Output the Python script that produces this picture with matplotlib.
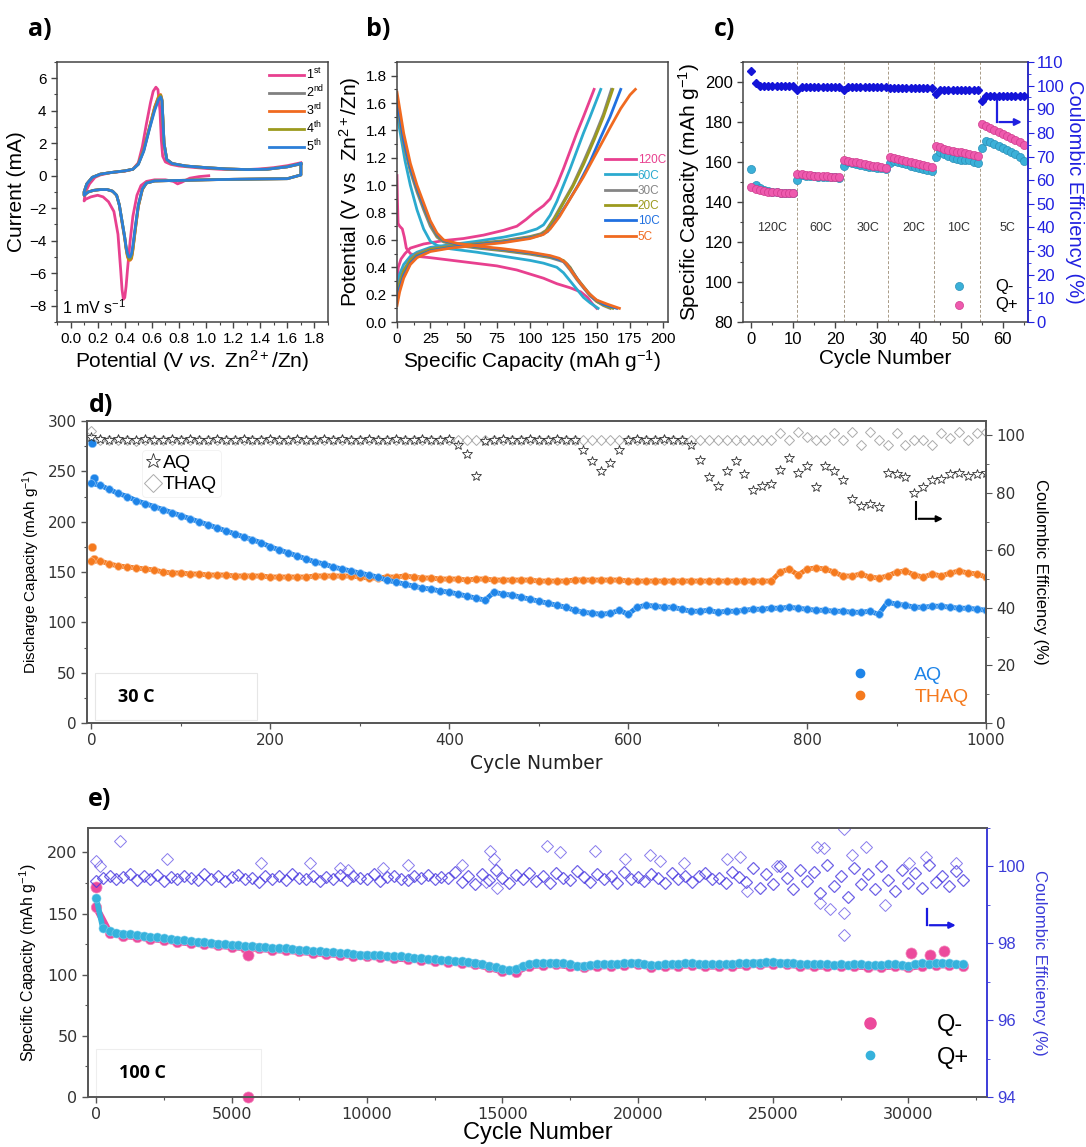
import numpy as np
import matplotlib.pyplot as plt
from matplotlib.ticker import MultipleLocator
from matplotlib.lines import Line2D
from matplotlib.patches import Rectangle

plt.rcParams['font.family'] = ['Liberation Sans', 'DejaVu Sans']
plt.rcParams['mathtext.fontset'] = 'custom'
plt.rcParams['mathtext.rm'] = 'Liberation Sans'
plt.rcParams['mathtext.it'] = 'Liberation Sans:italic'
plt.rcParams['mathtext.bf'] = 'Liberation Sans:bold'

# ---------------- a) CV curves ----------------
cv1_x = [1.02, 0.95, 0.88, 0.82, 0.79, 0.76, 0.70, 0.62, 0.56, 0.52, 0.49, 0.46, 0.44, 0.42, 0.41, 0.40,
         0.39, 0.38, 0.37, 0.35, 0.32, 0.28, 0.24, 0.20, 0.15, 0.11, 0.10, 0.11, 0.14, 0.18, 0.22, 0.30,
         0.40, 0.46, 0.50, 0.53, 0.56, 0.59, 0.61, 0.63, 0.645, 0.66, 0.67, 0.68, 0.70, 0.74, 0.80, 0.90,
         1.00, 1.10, 1.20, 1.30, 1.40, 1.50, 1.60, 1.70]
cv1_y = [0.0, -0.05, -0.15, -0.40, -0.50, -0.35, -0.25, -0.25, -0.35, -0.60, -1.2, -2.5, -4.0, -5.8, -6.8, -7.5,
         -7.6, -7.0, -5.8, -3.6, -2.2, -1.6, -1.3, -1.2, -1.3, -1.45, -1.55, -1.0, -0.5, -0.1, 0.05, 0.2,
         0.28, 0.4, 0.8, 1.8, 3.2, 4.5, 5.2, 5.45, 5.3, 4.0, 2.2, 1.2, 0.85, 0.7, 0.6, 0.52,
         0.45, 0.4, 0.38, 0.38, 0.42, 0.5, 0.62, 0.8]
cv_x = [1.70, 1.70, 1.60, 1.40, 1.20, 1.00, 0.85, 0.72, 0.62, 0.56, 0.53, 0.50, 0.48, 0.46, 0.45, 0.44, 0.43,
        0.42, 0.41, 0.40, 0.38, 0.36, 0.34, 0.31, 0.27, 0.22, 0.17, 0.13, 0.10, 0.10, 0.12, 0.16, 0.22, 0.30,
        0.40, 0.46, 0.50, 0.54, 0.58, 0.62, 0.65, 0.665, 0.675, 0.69, 0.71, 0.75, 0.85, 1.00, 1.15, 1.30,
        1.45, 1.60, 1.70]
cv2_y = [0.72, 0.05, -0.18, -0.2, -0.22, -0.25, -0.28, -0.3, -0.32, -0.45, -0.85, -1.9, -3.2, -4.5, -5.0, -5.15,
         -5.1, -4.9, -4.4, -3.8, -2.8, -1.8, -1.2, -0.95, -0.85, -0.85, -0.9, -1.0, -1.2, -1.0, -0.5, -0.1,
         0.1, 0.2, 0.3, 0.4, 0.72, 1.6, 2.9, 4.2, 4.85, 4.95, 4.6, 2.0, 1.0, 0.75, 0.6, 0.5, 0.42, 0.38,
         0.4, 0.55, 0.72]
cv3_y = [0.74, 0.05, -0.18, -0.2, -0.22, -0.25, -0.28, -0.3, -0.32, -0.45, -0.85, -1.9, -3.2, -4.6, -5.1, -5.2,
         -5.2, -5.0, -4.5, -3.9, -2.9, -1.8, -1.2, -0.95, -0.85, -0.85, -0.9, -1.0, -1.2, -1.0, -0.5, -0.1,
         0.1, 0.2, 0.3, 0.4, 0.72, 1.6, 2.9, 4.2, 4.9, 5.0, 4.7, 2.0, 1.0, 0.75, 0.6, 0.5, 0.42, 0.38,
         0.4, 0.55, 0.74]
cv4_y = [0.75, 0.05, -0.18, -0.2, -0.22, -0.25, -0.28, -0.3, -0.32, -0.45, -0.82, -1.85, -3.1, -4.5, -5.0, -5.15,
         -5.1, -4.9, -4.5, -3.8, -2.8, -1.8, -1.2, -0.95, -0.85, -0.85, -0.9, -1.0, -1.2, -1.0, -0.5, -0.1,
         0.1, 0.2, 0.3, 0.4, 0.71, 1.55, 2.85, 4.1, 4.8, 4.95, 4.65, 2.0, 1.0, 0.75, 0.6, 0.5, 0.42, 0.38,
         0.4, 0.55, 0.75]
cv5_y = [0.75, 0.05, -0.18, -0.2, -0.22, -0.25, -0.28, -0.3, -0.32, -0.45, -0.8, -1.8, -3.0, -4.3, -4.8, -5.0,
         -5.0, -4.8, -4.4, -3.8, -2.8, -1.8, -1.2, -0.95, -0.85, -0.85, -0.9, -1.0, -1.2, -1.0, -0.5, -0.1,
         0.1, 0.2, 0.3, 0.4, 0.7, 1.5, 2.8, 4.0, 4.7, 4.85, 4.6, 2.0, 1.0, 0.75, 0.6, 0.5, 0.42, 0.38,
         0.4, 0.55, 0.75]
cv_labels = [r'1$^{\mathrm{st}}$', r'2$^{\mathrm{nd}}$', r'3$^{\mathrm{rd}}$', r'4$^{\mathrm{th}}$', r'5$^{\mathrm{th}}$']
cv_colors = ['#e8408f', '#808080', '#f06a20', '#9c9a1e', '#2c7fd8']

# ---------------- b) charge / discharge ----------------
rates = ['120C', '60C', '30C', '20C', '10C', '5C']
rate_colors = ['#e8408f', '#2baacf', '#858585', '#9c9a1e', '#2070e0', '#f06a20']
dis_x = [
    [0, 0.3, 0.8, 2, 4, 5.5, 7, 10, 15, 25, 50, 75, 90, 100, 110, 120, 130, 138, 143, 147, 150],
    [0, 3, 6, 10, 15, 20, 25, 30, 40, 60, 80, 100, 110, 120, 125, 130, 135, 140, 145, 151],
    [0, 5, 10, 15, 20, 25, 30, 35, 45, 60, 80, 100, 115, 125, 130, 135, 140, 145, 150, 155, 160],
    [0, 5, 10, 15, 20, 25, 30, 35, 45, 60, 80, 100, 115, 125, 130, 135, 140, 145, 150, 156, 162],
    [0, 5, 10, 15, 20, 25, 30, 35, 45, 60, 80, 100, 115, 124, 128, 133, 138, 143, 148, 155, 165],
    [0, 5, 10, 15, 20, 25, 30, 35, 45, 60, 80, 100, 115, 122, 127, 132, 138, 144, 150, 158, 167],
]
dis_y = [
    [1.07, 0.9, 0.72, 0.70, 0.68, 0.62, 0.54, 0.50, 0.48, 0.47, 0.44, 0.41, 0.38, 0.35, 0.32, 0.28, 0.25, 0.22, 0.18, 0.13, 0.10],
    [1.52, 1.35, 1.18, 1.0, 0.82, 0.68, 0.59, 0.56, 0.535, 0.51, 0.48, 0.45, 0.43, 0.40, 0.36, 0.30, 0.24, 0.18, 0.14, 0.10],
    [1.58, 1.3, 1.1, 0.95, 0.82, 0.7, 0.62, 0.585, 0.56, 0.54, 0.52, 0.495, 0.47, 0.44, 0.38, 0.31, 0.25, 0.19, 0.15, 0.12, 0.10],
    [1.6, 1.32, 1.12, 0.97, 0.84, 0.72, 0.63, 0.59, 0.565, 0.545, 0.525, 0.5, 0.475, 0.45, 0.4, 0.32, 0.26, 0.2, 0.15, 0.12, 0.10],
    [1.62, 1.33, 1.13, 0.98, 0.85, 0.73, 0.64, 0.595, 0.57, 0.55, 0.53, 0.505, 0.48, 0.45, 0.42, 0.35, 0.28, 0.22, 0.17, 0.13, 0.10],
    [1.68, 1.38, 1.16, 1.0, 0.87, 0.74, 0.65, 0.60, 0.575, 0.555, 0.535, 0.51, 0.485, 0.465, 0.43, 0.36, 0.28, 0.21, 0.16, 0.13, 0.10],
]
chg_x = [
    [0, 1, 3, 6, 10, 20, 35, 50, 65, 80, 90, 97, 103, 110, 115, 120, 125, 130, 135, 140, 144, 148],
    [0, 2, 5, 10, 15, 25, 40, 60, 80, 95, 105, 110, 115, 120, 125, 130, 135, 140, 145, 149, 153],
    [0, 2, 5, 10, 15, 25, 40, 60, 80, 100, 108, 112, 118, 125, 132, 140, 148, 155, 161],
    [0, 2, 5, 10, 15, 25, 40, 60, 80, 100, 108, 112, 118, 125, 132, 140, 148, 155, 162],
    [0, 2, 5, 10, 15, 25, 40, 60, 80, 100, 108, 113, 120, 128, 136, 145, 153, 160, 168],
    [0, 2, 5, 10, 15, 25, 40, 60, 80, 100, 110, 115, 122, 130, 140, 150, 160, 168, 175, 179],
]
chg_y = [
    [0.30, 0.40, 0.46, 0.50, 0.54, 0.57, 0.595, 0.61, 0.635, 0.67, 0.70, 0.75, 0.80, 0.85, 0.90, 1.0, 1.12, 1.25, 1.38, 1.5, 1.6, 1.7],
    [0.25, 0.35, 0.42, 0.48, 0.51, 0.545, 0.565, 0.59, 0.62, 0.65, 0.68, 0.71, 0.78, 0.88, 1.0, 1.12, 1.25, 1.38, 1.5, 1.6, 1.7],
    [0.2, 0.3, 0.38, 0.46, 0.5, 0.535, 0.555, 0.575, 0.595, 0.625, 0.645, 0.67, 0.76, 0.88, 1.0, 1.17, 1.35, 1.52, 1.7],
    [0.18, 0.28, 0.37, 0.45, 0.49, 0.53, 0.55, 0.57, 0.59, 0.62, 0.64, 0.665, 0.75, 0.87, 0.99, 1.15, 1.33, 1.5, 1.7],
    [0.15, 0.25, 0.34, 0.43, 0.48, 0.52, 0.545, 0.565, 0.585, 0.615, 0.635, 0.66, 0.75, 0.87, 1.0, 1.17, 1.35, 1.5, 1.7],
    [0.12, 0.22, 0.32, 0.42, 0.47, 0.515, 0.54, 0.56, 0.58, 0.61, 0.64, 0.68, 0.77, 0.9, 1.06, 1.24, 1.42, 1.56, 1.66, 1.7],
]

# ---------------- c) rate capability ----------------
c_qplus = [147.5, 146.5, 146, 145.5, 145.2, 145, 144.8, 144.6, 144.5, 144.4, 144.3,
           154, 153.8, 153.5, 153.3, 153.2, 153, 152.9, 152.8, 152.7, 152.6, 152.5,
           161, 160.6, 160.2, 159.8, 159.4, 159, 158.6, 158.2, 157.8, 157.4, 157,
           162.5, 162, 161.5, 161, 160.5, 160, 159.5, 159, 158.5, 158, 157.5,
           168, 167.3, 166.6, 166, 165.5, 165, 164.8, 164.5, 164, 163.5, 163,
           179, 178, 177, 176, 175, 174, 173, 172, 171, 170, 168.5]
c_qminus = [156.5, 148.5, 147, 146, 145.5, 145.0, 144.8, 144.6, 144.5, 144.4, 144.3,
            151, 153.5, 153.2, 153, 152.8, 152.7, 152.6, 152.5, 152.4, 152.3, 152.2,
            158, 159.8, 159.3, 158.9, 158.5, 158.1, 157.7, 157.4, 157.1, 156.8, 156.4,
            159.5, 160.5, 160, 159.4, 158.8, 158.2, 157.7, 157.2, 156.7, 156.2, 155.5,
            162.5, 165, 164, 163, 162, 161.5, 161.2, 161, 160.8, 160.2, 159.5,
            167, 170.5, 170, 169, 168, 167, 166, 165, 164, 162.5, 160.5]
c_ce = [106, 101, 100, 100, 100, 100, 100, 100, 100, 100, 100,
        98, 99.6, 99.6, 99.6, 99.6, 99.6, 99.6, 99.6, 99.6, 99.6, 99.6,
        98, 99.4, 99.4, 99.4, 99.4, 99.4, 99.4, 99.4, 99.4, 99.4, 99.4,
        98.9, 99.0, 99.0, 99.0, 99.0, 99.0, 99.0, 99.0, 99.0, 99.0, 99.0,
        96.5, 98.1, 98.1, 98.1, 98.1, 98.1, 98.1, 98.1, 98.1, 98.1, 98.1,
        93.5, 95.5, 95.5, 95.5, 95.5, 95.5, 95.5, 95.5, 95.5, 95.5, 95.5]
c_bounds = [10.9, 22, 32.5, 43.6, 54.5]
c_rate_labels = ['120C', '60C', '30C', '20C', '10C', '5C']
c_rate_pos = [5, 16.6, 27.9, 38.8, 49.5, 61]

# ---------------- d) long cycling 30 C ----------------
d_step = 10
aq_init_cyc = [1, 3]
aq_init = [278, 243]
thaq_init = [175, 163]
aq_cap = [238, 236, 232, 228, 225, 221, 218, 215, 212, 209, 206, 203, 200, 197, 194, 191, 188, 185, 182, 179,
          175, 172, 169, 166, 163, 160, 158, 155, 153, 151, 149, 147, 145, 142, 140, 138, 136, 134, 133, 131,
          130, 128, 126, 124, 122, 130, 128, 127, 125, 123, 121, 119, 117, 115, 112, 110, 109, 108, 109, 112,
          108, 115, 117, 116, 115, 115, 113, 111, 111, 112, 110, 111, 111, 112, 113, 113, 114, 114, 115, 114,
          113, 112, 112, 111, 111, 110, 110, 111, 108, 120, 118, 117, 115, 115, 116, 116, 115, 114, 114, 113,
          112]
thaq_cap = [161, 161, 158, 156, 155, 154, 153, 152, 150, 149, 149, 148, 148, 147, 147, 147, 146, 146, 146, 146,
            145, 145, 145, 145, 145, 146, 146, 146, 146, 146, 145, 144, 144, 145, 145, 146, 145, 144, 144, 143,
            143, 143, 142, 143, 143, 142, 142, 142, 142, 142, 141, 141, 141, 141, 142, 142, 142, 142, 142, 142,
            141, 141, 141, 141, 141, 141, 141, 141, 141, 141, 141, 141, 141, 141, 141, 141, 141, 150, 153, 147,
            153, 154, 153, 150, 146, 146, 148, 145, 144, 146, 150, 151, 147, 145, 148, 146, 149, 151, 149, 148,
            145]
aq_ce = [99.5,
         98.6, 98.4, 98.7, 98.5, 98.3, 98.6, 98.5, 98.4, 98.7, 98.5, 98.6, 98.4, 98.5, 98.7, 98.3, 98.5, 98.6, 98.4, 98.5, 98.7,
         98.5, 98.4, 98.6, 98.5, 98.3, 98.6, 98.5, 98.7, 98.4, 98.5, 98.6, 98.4, 98.5, 98.7, 98.5, 98.3, 98.6, 98.5, 98.4, 98.6,
         96.5, 93.5, 86.0, 98.2,
         98.5, 98.6, 98.4, 98.5, 98.7, 98.4, 98.5, 98.6, 98.3, 98.5,
         95.0, 91.0, 87.5, 90.5, 95.0,
         98.5, 98.6, 98.4, 98.5, 98.7, 98.5,
         98.3, 96.5, 91.5, 85.5, 82.5, 87.5, 91.0, 86.5, 81.0, 82.5, 83.0, 88.0, 92.0, 87.0, 89.5, 82.0, 89.5, 87.5,
         84.5, 78.0, 75.5, 76.0, 75.0, 87.0, 86.5, 85.5, 80.0, 82.0, 84.5, 85.0, 86.5, 87.0, 86.0, 86.5, 87.0]
thaq_ce = [101.5,
           98.4, 98.3, 98.5, 98.4, 98.2, 98.4, 98.5, 98.3, 98.4, 98.5, 98.3, 98.4, 98.4, 98.5, 98.3, 98.4, 98.5, 98.3, 98.4, 98.4,
           98.5, 98.3, 98.4, 98.4, 98.5, 98.3, 98.4, 98.5, 98.4, 98.3, 98.4, 98.5, 98.4, 98.3, 98.4, 98.5, 98.4, 98.3, 98.4, 98.4,
           98.5, 98.3, 98.4, 98.4, 98.5, 98.3, 98.4, 98.5, 98.4, 98.3, 98.4, 98.5, 98.4, 98.3, 98.4, 98.5, 98.4, 98.3, 98.4, 98.4,
           98.5, 98.3, 98.4, 98.4, 98.5, 98.3, 98.4, 98.5, 98.4, 98.3, 98.4, 98.5, 98.4, 98.3, 98.4, 98.5,
           101.0, 98.4, 101.2, 99.5, 98.4, 98.5, 101.0, 98.4, 101.3, 96.8, 101.2, 98.5, 96.7, 101.0, 96.8, 98.4, 98.5,
           96.8, 101.0, 99.0, 101.2, 98.5, 101.0, 101.2]

# ---------------- e) long cycling 100 C ----------------
e_cap_step = 250
e_qplus = [163, 138, 136, 134.5, 133.5, 133, 132.5, 132, 131, 130.5, 130, 129, 128.5, 128, 127.5, 127, 126.5, 126,
           125.5, 125, 124.5, 124, 123.5, 123.5, 123, 122.5, 122, 121.5, 121.5, 121, 120.5, 120, 119.5, 119,
           118.5, 118.5, 118, 117.5, 117, 116.5, 116.5, 116, 116, 115.5, 115, 115, 114.5, 114, 113.5, 113,
           112.5, 112, 112, 111.5, 111, 110.5, 110, 109, 107.5, 106, 104.5, 104, 104.5, 107.5, 109, 109.5,
           109.5, 110, 110, 109.5, 108.5, 107.5, 107.5, 108, 108.5, 109, 109, 109, 109.5, 110, 110, 109, 108,
           108, 108.5, 109, 109, 109.5, 109.5, 109, 108.5, 108.5, 108.5, 109, 109, 109.5, 109.5, 110, 110,
           110.5, 110.5, 110, 110, 109.5, 109, 109, 108.5, 108.5, 108.5, 108, 108.5, 108, 108.5, 108.5, 108,
           108, 108, 108.5, 108.5, 108, 107.5, 109, 109.5, 109, 109.5, 110, 109.5, 109, 109]
e_qminus_step = 500
e_qminus = [155, 134, 132, 131, 129.5, 128.5, 127, 126, 125, 124, 123, 122, 121.5, 120.5, 120, 119, 118, 117,
            116.5, 115.5, 115, 114.5, 113.5, 113, 112, 111, 110.5, 109.5, 108.5, 106, 103, 102.5, 107.5, 108,
            108.5, 107, 106, 107, 107.5, 108, 108.5, 106.5, 107, 107.5, 108, 107, 107, 107.5, 108, 108.5, 109,
            108.5, 107.5, 107, 107, 107, 107, 106.5, 106.5, 107, 106, 107.5, 108, 108, 107.5]
e_qminus_out_cyc = [0, 5600, 5600, 30100, 30800, 31300]
e_qminus_out = [172, 116, 0, 118, 116.5, 119]
e_ce_step = 250
e_ce = [99.62, 99.70, 99.76, 99.66, 99.72, 99.80, 99.64, 99.74, 99.68, 99.78,
        99.62, 99.72, 99.66, 99.76, 99.70, 99.64, 99.80, 99.68, 99.74, 99.62,
        99.72, 99.78, 99.66, 99.70, 99.60, 99.76, 99.68, 99.74, 99.64, 99.80,
        99.70, 99.66, 99.76, 99.62, 99.72, 99.68, 99.78, 99.64, 99.74, 99.70,
        99.66, 99.80, 99.62, 99.72, 99.76, 99.68, 99.64, 99.74, 99.70, 99.78,
        99.66, 99.72,
        99.70, 99.85, 99.60, 99.75, 99.55, 99.80, 99.65, 99.90, 99.70, 99.58,
        99.78, 99.66, 99.84, 99.62, 99.74, 99.56, 99.82, 99.70, 99.64, 99.88,
        99.72, 99.60, 99.80, 99.68, 99.76, 99.58, 99.86, 99.66, 99.72, 99.62,
        99.80, 99.70, 99.56, 99.84, 99.68, 99.76, 99.60, 99.74, 99.82, 99.66,
        99.70, 99.58, 99.86, 99.72,
        99.60, 99.95, 99.45, 99.80, 99.55, 100.00, 99.70, 99.40, 99.90, 99.62,
        99.85, 99.30, 100.05, 99.50, 99.75, 99.20, 99.95, 99.55, 99.80, 99.40,
        100.00, 99.65, 99.35, 99.90, 99.58, 99.82, 99.45, 100.05, 99.60, 99.75,
        99.50, 99.88, 99.65]
e_ce_out_cyc = [0, 150, 900, 2600, 6100, 7900, 9000, 9300, 10600, 11500, 13500, 14550, 14700, 14800, 14400,
                16640, 17130, 18430, 19540, 20470, 20830, 21700, 23300, 23790, 24040, 25150, 26630, 26880,
                26750, 27120, 27610, 27610, 27610, 27920, 28420, 29150, 30020, 30630, 31740]
e_ce_out = [100.15, 100.0, 100.67, 100.2, 100.08, 100.08, 99.95, 99.92, 99.95, 100.05, 100.05, 100.4, 100.2,
            99.45, 99.6, 100.54, 100.37, 100.4, 100.2, 100.3, 100.15, 100.1, 100.2, 100.25, 99.35, 100.0, 100.5,
            100.48, 99.05, 98.9, 100.97, 98.8, 98.22, 100.3, 100.5, 99.0, 100.1, 100.25, 100.08]

W, H = 1086, 1147
fig = plt.figure(figsize=(W / 100, H / 100), dpi=100)


def box(l, r, t, b):
    return [l / W, 1 - b / H, (r - l) / W, (b - t) / H]


def frame(ax, col='#444444', lw=1.1):
    for s in ax.spines.values():
        s.set_color(col)
        s.set_linewidth(lw)
    ax.tick_params(which='both', direction='out', color=col, right=False, top=False)
    ax.tick_params(which='major', length=4, width=1.0)
    ax.tick_params(which='minor', length=2, width=0.8)


# ---- a ----
ax = fig.add_axes(box(57, 328, 62, 322))
frame(ax)
ax.plot(cv1_x, cv1_y, color=cv_colors[0], lw=2, label=cv_labels[0])
for y, c, lab in zip([cv2_y, cv3_y, cv4_y, cv5_y], cv_colors[1:], cv_labels[1:]):
    ax.plot(cv_x, y, color=c, lw=2, label=lab)
ax.set_xlim(-0.1, 1.9)
ax.set_ylim(-9, 7)
ax.xaxis.set_minor_locator(MultipleLocator(0.1))
ax.yaxis.set_major_locator(MultipleLocator(2))
ax.yaxis.set_minor_locator(MultipleLocator(1))
ax.set_xticks(np.arange(0, 1.81, 0.2))
ax.set_xticklabels([f'{v:.1f}' for v in np.arange(0, 1.81, 0.2)])
ax.tick_params(labelsize=11)
ax.set_xlabel(r'Potential (V $\it{vs.}$ Zn$^{2+}$/Zn)', fontsize=15, labelpad=1)
ax.set_ylabel('Current (mA)', fontsize=15, labelpad=2)
ax.text(0.02, 0.03, '1 mV s$^{-1}$', transform=ax.transAxes, fontsize=11.5)
ax.legend(loc='upper right', fontsize=9, frameon=False, handlelength=2.8, handletextpad=0.15,
          labelspacing=0.12, borderaxespad=0.0, borderpad=0.2, bbox_to_anchor=(0.995, 0.99))

# ---- b ----
ax = fig.add_axes(box(397, 668, 62, 322))
frame(ax)
for i in range(len(rates)):
    ax.plot(dis_x[i], dis_y[i], color=rate_colors[i], lw=2)
    ax.plot(chg_x[i], chg_y[i], color=rate_colors[i], lw=2, label=rates[i])
ax.set_xlim(0, 203.5)
ax.set_ylim(0, 1.9)
ax.xaxis.set_major_locator(MultipleLocator(25))
ax.xaxis.set_minor_locator(MultipleLocator(12.5))
ax.set_yticks(np.arange(0, 1.81, 0.2))
ax.set_yticklabels([f'{v:.1f}' for v in np.arange(0, 1.81, 0.2)])
ax.yaxis.set_minor_locator(MultipleLocator(0.1))
ax.tick_params(labelsize=11)
ax.set_xlabel('Specific Capacity (mAh g$^{-1}$)', fontsize=15, labelpad=1)
ax.set_ylabel('Potential (V vs  Zn$^{2+}$/Zn)', fontsize=15, labelpad=2)
ax.legend(loc='center right', fontsize=8.5, frameon=False, handlelength=2.6, handletextpad=0.15,
          labelspacing=0.28, labelcolor=rate_colors, borderaxespad=0.0, bbox_to_anchor=(1.01, 0.475))

# ---- c ----
ax = fig.add_axes(box(743, 1028, 62, 322))
frame(ax)
cyc = np.arange(len(c_qplus))
ax.scatter(cyc, c_qplus, s=34, color='#ee5aae', edgecolor='#d03c8e', lw=0.5, zorder=3, label='Q+')
ax.scatter(cyc, c_qminus, s=34, color='#3bb0d8', edgecolor='#2a90b8', lw=0.5, zorder=2, label='Q-')
for xb in c_bounds:
    ax.axvline(xb, color='#a89a86', ls=(0, (3, 2)), lw=0.7, zorder=1)
for lab, xp in zip(c_rate_labels, c_rate_pos):
    ax.text(xp, 127, lab, ha='center', va='center', fontsize=9, color='#333333')
ax.set_xlim(-2, 66)
ax.set_ylim(80, 210)
ax.xaxis.set_major_locator(MultipleLocator(10))
ax.xaxis.set_minor_locator(MultipleLocator(5))
ax.yaxis.set_major_locator(MultipleLocator(20))
ax.yaxis.set_minor_locator(MultipleLocator(10))
ax.tick_params(labelsize=12)
ax.set_xlabel('Cycle Number', fontsize=15, labelpad=1)
ax.set_ylabel('Specific Capacity (mAh g$^{-1}$)', fontsize=15, labelpad=2)
h1, l1 = ax.get_legend_handles_labels()
ax.legend([h1[1], h1[0]], ['Q-', 'Q+'], loc='lower right', fontsize=12, frameon=False,
          handletextpad=1.2, labelspacing=0.2, borderaxespad=0.2)
ax2 = ax.twinx()
blue = '#2020e0'
ax2.plot(cyc, c_ce, 'D', color='#1414d8', ms=3.8, zorder=4)
ax2.set_ylim(0, 110)
ax2.yaxis.set_major_locator(MultipleLocator(10))
ax2.yaxis.set_minor_locator(MultipleLocator(5))
for s in ax2.spines.values():
    s.set_visible(False)
ax2.spines['right'].set_visible(True)
ax2.spines['right'].set_color(blue)
ax2.spines['right'].set_linewidth(1.1)
ax2.tick_params(axis='y', which='both', direction='out', colors=blue, labelsize=12, pad=2)
ax2.tick_params(axis='y', which='major', length=4)
ax2.tick_params(axis='y', which='minor', length=2)
ax2.set_ylabel('Coulombic Efficiency (%)', fontsize=14.5, color=blue, rotation=270, labelpad=14)
arrow_c = (58.6, 95, 84.6, 65.2)
ax2.plot([arrow_c[0], arrow_c[0]], [arrow_c[1], arrow_c[2]], color=blue, lw=1.6)
ax2.annotate('', xy=(arrow_c[3], arrow_c[2]), xytext=(arrow_c[0] - 0.1, arrow_c[2]),
             arrowprops=dict(arrowstyle='-|>', color=blue, lw=1.6, mutation_scale=10))

# ---- d ----
c_aq = '#1e84e8'
c_thaq = '#f57a1e'
dgray = '#555555'
ax = fig.add_axes(box(87, 986, 421, 723))
frame(ax, dgray, 1.2)
d_cyc = np.arange(len(aq_cap)) * d_step
ax.plot(aq_init_cyc, aq_init, 'o', color=c_aq, ms=6, mec='#8cc4f8', mew=0.4)
ax.plot(aq_init_cyc, thaq_init, 'o', color=c_thaq, ms=6, mec='#fbb88a', mew=0.4)
ax.plot(d_cyc, thaq_cap, '-o', color=c_thaq, lw=3.5, ms=5.5, mec='#fbb88a', mew=0.5)
ax.plot(d_cyc, aq_cap, '-o', color=c_aq, lw=3.5, ms=5.5, mec='#8cc4f8', mew=0.5)
ax.set_xlim(-5, 1000)
ax.set_ylim(0, 300)
ax.xaxis.set_major_locator(MultipleLocator(200))
ax.xaxis.set_minor_locator(MultipleLocator(100))
ax.yaxis.set_major_locator(MultipleLocator(50))
ax.yaxis.set_minor_locator(MultipleLocator(25))
ax.tick_params(labelsize=11, labelcolor='#333333', labelfontfamily='DejaVu Sans')
ax.set_xlabel('Cycle Number', fontsize=13.5, family='DejaVu Sans', color='#222222', labelpad=4)
ax.set_ylabel('Discharge Capacity (mAh g$^{-1}$)', fontsize=11, labelpad=4)
ax.add_patch(Rectangle((0.009, 0.01), 0.18, 0.155, transform=ax.transAxes, fill=False,
                       edgecolor='#e6e6e6', lw=0.8))
ax.text(0.035, 0.086, '30 C', transform=ax.transAxes, fontsize=13, fontweight='bold',
        family='Open Sans', va='center')
hd = [Line2D([], [], ls='none', marker='o', color=c_aq, ms=6),
      Line2D([], [], ls='none', marker='o', color=c_thaq, ms=6)]
ax.legend(hd, ['AQ', 'THAQ'], loc='lower right', fontsize=14, frameon=False, handletextpad=1.8,
          labelspacing=0.2, labelcolor=[c_aq, c_thaq], bbox_to_anchor=(1.0, 0.0))
ax2 = ax.twinx()
ln_d, = ax2.plot(d_cyc, thaq_ce, 'D', mfc='none', mec='#ababab', ms=5.5, mew=0.7)
ln_s, = ax2.plot(d_cyc, aq_ce, '*', mfc='none', mec='#333333', ms=7, mew=0.6)
ax2.set_ylim(0, 105)
ax2.yaxis.set_major_locator(MultipleLocator(20))
ax2.yaxis.set_minor_locator(MultipleLocator(10))
for s in ax2.spines.values():
    s.set_color(dgray)
    s.set_linewidth(1.2)
ax2.tick_params(axis='y', which='both', direction='out', color=dgray, labelsize=11, labelcolor='#333333',
                labelfontfamily='DejaVu Sans')
ax2.tick_params(axis='y', which='major', length=4)
ax2.tick_params(axis='y', which='minor', length=2)
ax2.set_ylabel('Coulombic Efficiency (%)', fontsize=12, rotation=270, labelpad=16)
leg = ax2.legend([ln_s, ln_d], ['AQ', 'THAQ'], loc='upper left', fontsize=14, frameon=True,
                 handlelength=0.8, handletextpad=0.1, labelspacing=0.2, borderpad=0.2,
                 bbox_to_anchor=(0.05, 0.935), markerscale=1.6)
leg.get_frame().set_edgecolor('#eeeeee')
leg.get_frame().set_linewidth(0.6)
arrow_d = (922, 77, 71, 955)
ax2.plot([arrow_d[0], arrow_d[0]], [arrow_d[1], arrow_d[2]], color='black', lw=1.5)
ax2.annotate('', xy=(arrow_d[3], arrow_d[2]), xytext=(arrow_d[0] - 0.5, arrow_d[2]),
             arrowprops=dict(arrowstyle='-|>', color='black', lw=1.5, mutation_scale=9))

# ---- e ----
c_qm = '#ec4a9c'
c_qp = '#36b2dc'
eblue = '#3c3cd8'
ax = fig.add_axes(box(88, 987, 828, 1097))
frame(ax, dgray, 1.2)
e_qm_cyc = np.arange(len(e_qminus)) * e_qminus_step
e_qp_cyc = np.arange(len(e_qplus)) * e_cap_step
ax.plot(e_qm_cyc, e_qminus, '-o', color=c_qm, lw=5, ms=7.5, mec='#f38cbf', mew=0.5, zorder=2)
ax.plot(e_qminus_out_cyc, e_qminus_out, 'o', color=c_qm, ms=8, mec='#f38cbf', mew=0.5, zorder=2,
        clip_on=False)
ax.plot(e_qp_cyc, e_qplus, '-o', color=c_qp, lw=4, ms=6.5, mec='#7fd0ee', mew=0.4, zorder=3)
ax.set_xlim(-300, 32900)
ax.set_ylim(0, 220)
ax.xaxis.set_major_locator(MultipleLocator(5000))
ax.xaxis.set_minor_locator(MultipleLocator(2500))
ax.yaxis.set_major_locator(MultipleLocator(50))
ax.yaxis.set_minor_locator(MultipleLocator(25))
ax.tick_params(labelsize=11.5, labelcolor='#333333', labelfontfamily='DejaVu Sans')
ax.set_xlabel('Cycle Number', fontsize=17, labelpad=0)
ax.set_ylabel('Specific Capacity (mAh g$^{-1}$)', fontsize=11.5, labelpad=6)
ax.add_patch(Rectangle((0.009, 0.0), 0.183, 0.18, transform=ax.transAxes, fill=False,
                       edgecolor='#eeeeee', lw=0.8))
ax.text(0.035, 0.09, '100 C', transform=ax.transAxes, fontsize=13, fontweight='bold',
        family='Open Sans', va='center')
he = [Line2D([], [], ls='none', marker='o', color=c_qm, ms=8),
      Line2D([], [], ls='none', marker='o', color=c_qp, ms=6)]
ax.legend(he, ['Q-', 'Q+'], loc='lower right', fontsize=17, frameon=False, handletextpad=1.8,
          labelspacing=0.45, borderaxespad=0.0, bbox_to_anchor=(0.99, 0.07))
ax2 = ax.twinx()
e_ce_cyc = np.arange(len(e_ce)) * e_ce_step
ax2.plot(e_ce_cyc, e_ce, 'D', mfc='none', mec='#4a3ae0', ms=6.5, mew=0.9, alpha=0.8)
ax2.plot(e_ce_out_cyc, e_ce_out, 'D', mfc='none', mec='#6a5ae8', ms=6, mew=0.7, alpha=0.8)
ax2.set_ylim(94, 101)
ax2.yaxis.set_major_locator(MultipleLocator(2))
ax2.yaxis.set_minor_locator(MultipleLocator(1))
for s in ax2.spines.values():
    s.set_color(dgray)
    s.set_linewidth(1.2)
ax2.spines['right'].set_color(eblue)
ax.spines['right'].set_color(eblue)
ax2.tick_params(axis='y', which='both', direction='out', colors=eblue, labelsize=12)
ax2.tick_params(axis='y', which='major', length=4)
ax2.tick_params(axis='y', which='minor', length=2)
ax2.set_ylabel('Coulombic Efficiency (%)', fontsize=12, color=eblue, rotation=270, labelpad=16)
arrow_e = (30690, 98.9, 98.47, 31850)
ax2.plot([arrow_e[0], arrow_e[0]], [arrow_e[1], arrow_e[2]], color='#1a1ae0', lw=1.6)
ax2.annotate('', xy=(arrow_e[3], arrow_e[2]), xytext=(arrow_e[0] - 10, arrow_e[2]),
             arrowprops=dict(arrowstyle='-|>', color='#1a1ae0', lw=1.6, mutation_scale=9))

# panel letters
for lab, xp, yp in [('a)', 40, 30), ('b)', 378, 30), ('c)', 725, 30), ('d)', 101, 405), ('e)', 100, 800)]:
    fig.text(xp / W, 1 - yp / H, lab, fontsize=18, fontweight='bold', family='Open Sans',
             ha='center', va='center')

fig.savefig('out.png', dpi=100)
